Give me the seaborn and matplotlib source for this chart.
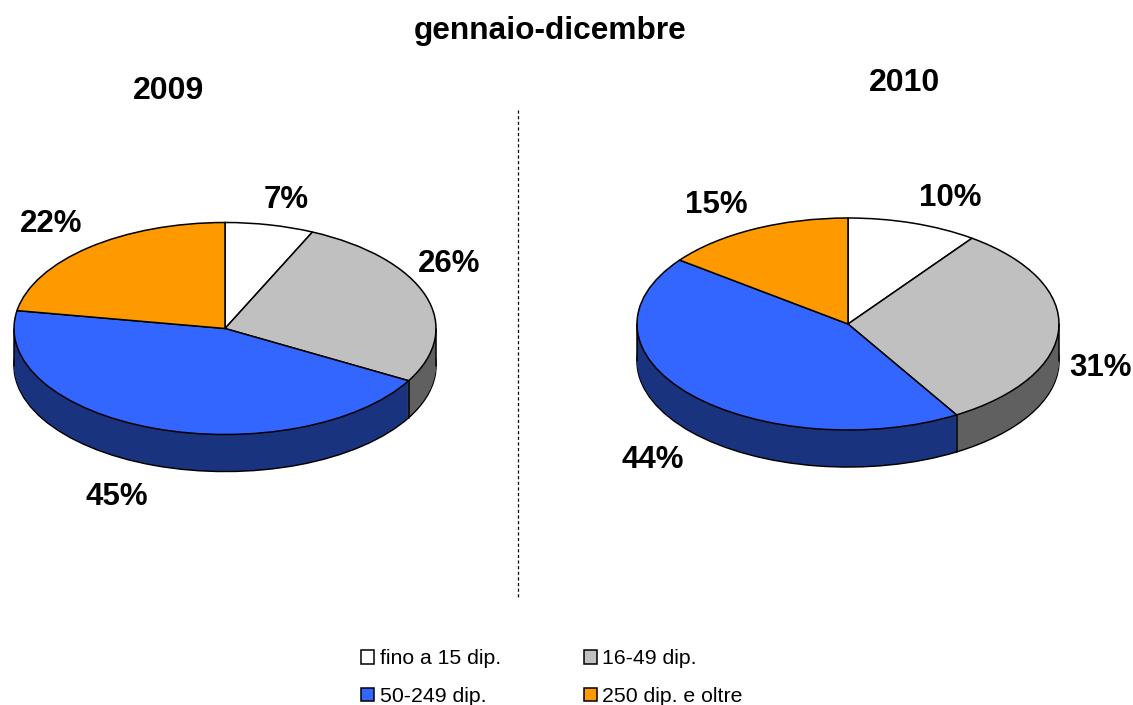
import numpy as np
import matplotlib
matplotlib.use('Agg')
import matplotlib.pyplot as plt
import seaborn as sns
from matplotlib.patches import Patch

# Values (slice sizes estimated, labels as printed)
categories = ['fino a 15 dip.', '16-49 dip.', '50-249 dip.', '250 dip. e oltre']
values_2009 = [6.8, 26.4, 44.5, 22.3]
values_2010 = [10.0, 31.4, 43.9, 14.7]
labels_2009 = ['7%', '26%', '45%', '22%']
labels_2010 = ['10%', '31%', '44%', '15%']
top_colors = ['#FFFFFF', '#C0C0C0', '#3366FF', '#FF9900']
side_colors = ['#808080', '#606060', '#1A337F', '#804C00']

sns.set_theme(style='white')
plt.rcParams['font.family'] = ['Liberation Sans', 'DejaVu Sans']
plt.rcParams['text.color'] = 'black'

W, H = 1133, 705
LW = 1.1
fig = plt.figure(figsize=(W / 100, H / 100), dpi=100)
fig.patch.set_facecolor('white')


def draw_pie(cx, cy, values, rx=211, ry=106, depth=37):
    # axes in pixels, squashed so the pie turns into an ellipse
    ax = fig.add_axes([(cx - rx - 3) / W, 1 - (cy + ry + depth + 3) / H,
                       (2 * rx + 6) / W, (2 * ry + depth + 6) / H])
    d = depth / ry
    pad_x = 3 / rx
    pad_y = 3 / ry
    # the side of the cylinder is a stack of dark pies
    for off in np.linspace(d, 0, 38):
        edge = 'black' if off == d else 'none'
        ax.pie(values, colors=side_colors, startangle=90, counterclock=False,
               center=(0, -off), wedgeprops={'edgecolor': edge, 'linewidth': LW})
    ax.pie(values, colors=top_colors, startangle=90, counterclock=False,
           wedgeprops={'edgecolor': 'black', 'linewidth': LW})
    ax.set_aspect('auto')
    ax.set_xlim(-1 - pad_x, 1 + pad_x)
    ax.set_ylim(-1 - d - pad_y, 1 + pad_y)
    ax.axis('off')
    # vertical edges: both extremes and the wedge boundaries on the front
    ax.plot([-1, -1], [0, -d], color='black', lw=LW)
    ax.plot([1, 1], [0, -d], color='black', lw=LW)
    for frac in np.cumsum(values) / 100:
        a = np.pi / 2 - 2 * np.pi * frac
        if np.sin(a) < 0:
            ax.plot([np.cos(a)] * 2, [np.sin(a), np.sin(a) - d], color='black', lw=LW)


draw_pie(225, 328.5, values_2009)
draw_pie(848, 324, values_2010)


def label(x, y, s, size=22.5):
    fig.text(x / W, 1 - y / H, s, ha='center', va='center', fontsize=size,
             fontweight='bold', color='black')


label(550.5, 31, 'gennaio-dicembre', 22.8)
label(169, 91, '2009', 23)
label(904, 83, '2010', 23)
for (x, y), s in zip([(286, 200), (449, 264), (117, 497), (51.5, 224)], labels_2009):
    label(x, y, s)
for (x, y), s in zip([(950, 198), (1101, 368), (653, 460), (716, 205)], labels_2010):
    label(x, y, s)

fig.add_artist(plt.Line2D([518 / W, 518 / W], [1 - 110 / H, 1 - 598 / H],
                          color='black', lw=0.9, ls=(0, (2.5, 2))))

handles = [Patch(facecolor=c, edgecolor='black', linewidth=LW) for c in top_colors]
fig.legend(handles[0::2] + handles[1::2], categories[0::2] + categories[1::2], ncol=2,
           loc='center', bbox_to_anchor=(552 / W, 1 - 677.5 / H), frameon=False, fontsize=15.3,
           handlelength=0.6, handleheight=0.6, handletextpad=0.28, columnspacing=3.9,
           labelspacing=0.87, borderpad=0, labelcolor='black')

fig.savefig('out.png', dpi=100, facecolor='white')
